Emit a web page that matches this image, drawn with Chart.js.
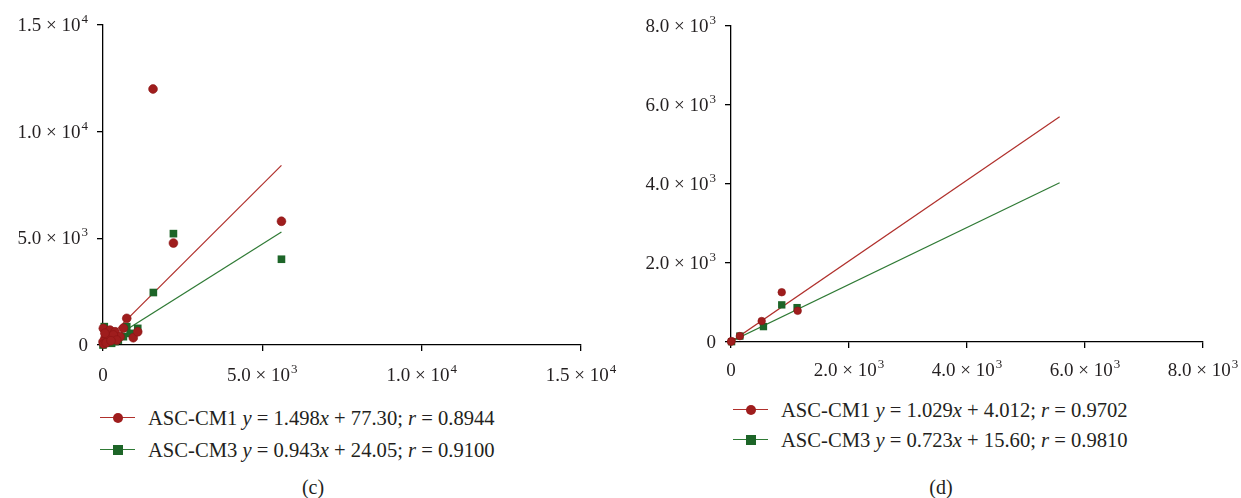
<!DOCTYPE html>
<html>
<head>
<meta charset="utf-8">
<script src="https://cdn.jsdelivr.net/npm/chart.js@4"></script>
<style>
  body { margin: 0; width: 1241px; height: 498px; background: #fff; overflow: hidden;
         font-family: "Liberation Serif", "DejaVu Serif", serif; color: #231f20; }
  canvas { position: absolute; top: 0; }
  #chartC { left: 0; }
  #chartD { left: 620px; }
  .row { position: absolute; font-size: 20.6px; line-height: 24px; white-space: nowrap; }
  .mk { display: inline-block; position: relative; width: 35px; height: 24px; vertical-align: top; margin-right: 13px; }
  .mk .ln { position: absolute; left: 0; right: 0; top: 11px; height: 1.3px; }
  .mk .dot { position: absolute; left: 13px; top: 7px; width: 10px; height: 10px; border-radius: 50%; }
  .mk .sq { position: absolute; left: 13px; top: 7px; width: 10px; height: 10px; }
  .cap { position: absolute; font-size: 20px; width: 60px; text-align: center; }
</style>
</head>
<body>
<canvas id="chartC" width="620" height="395"></canvas>
<canvas id="chartD" width="621" height="395"></canvas>

<div class="row" style="left:100px; top:406px;"><span class="mk"><span class="ln" style="background:#b0302c"></span><span class="dot" style="background:#9f1d1d"></span></span>ASC-CM1 <i>y</i> = 1.498<i>x</i> + 77.30; <i>r</i> = 0.8944</div>
<div class="row" style="left:100px; top:438px;"><span class="mk"><span class="ln" style="background:#2f7a35"></span><span class="sq" style="background:#1d6528"></span></span>ASC-CM3 <i>y</i> = 0.943<i>x</i> + 24.05; <i>r</i> = 0.9100</div>
<div class="cap" style="left:283px; top:476px;">(c)</div>

<div class="row" style="left:733px; top:398px;"><span class="mk"><span class="ln" style="background:#b0302c"></span><span class="dot" style="background:#9f1d1d"></span></span>ASC-CM1 <i>y</i> = 1.029<i>x</i> + 4.012; <i>r</i> = 0.9702</div>
<div class="row" style="left:733px; top:428px;"><span class="mk"><span class="ln" style="background:#2f7a35"></span><span class="sq" style="background:#1d6528"></span></span>ASC-CM3 <i>y</i> = 0.723<i>x</i> + 15.60; <i>r</i> = 0.9810</div>
<div class="cap" style="left:911px; top:476px;">(d)</div>

<script>
// ---- panel (c) data ----
const cCm1X = [1570, 5600, 2210, 745, 640, 950, 1090, 10, 220, 380, 535, 60, 0, 170, 325, 430, 60, 20, 100, 250];
const cCm1Y = [12000, 5800, 4780, 1250, 790, 340, 620, 780, 700, 620, 390, 310, 150, 310, 470, 230, 550, 50, 100, 200];
const cCm3X = [2210, 5600, 1580, 745, 1090, 40, 850, 640, 480, 0, 270, 380, 100];
const cCm3Y = [5220, 4020, 2460, 860, 780, 860, 545, 390, 230, 0, 80, 160, 300];
const cFitX = [0, 5600];
const cFit1Y = [77, 8420];
const cFit3Y = [24, 5300];
const cTicks = [0, 5000, 10000, 15000];

// ---- panel (d) data ----
const dCm1X = [860, 520, 1130, 150, 10, 0];
const dCm1Y = [1260, 530, 790, 150, 25, 8];
const dCm3X = [860, 1120, 550, 150, 10];
const dCm3Y = [940, 870, 390, 150, 8];
const dFitX = [0, 5570];
const dFit1Y = [4, 5700];
const dFit3Y = [16, 4030];
const dTicks = [0, 2000, 4000, 6000, 8000];

const RED = '#9f1d1d', RED_LINE = '#b0302c';
const GREEN = '#1d6528', GREEN_LINE = '#2f7a35';
const INK = '#231f20';
const FONT = '"Liberation Serif", serif';

// split a tick value into mantissa text and exponent, e.g. 15000 -> ["1.5 × 10", "4"]
function sciParts(v) {
  if (v === 0) return ['0', ''];
  const e = Math.floor(Math.log10(v) + 1e-9);
  return [(v / Math.pow(10, e)).toFixed(1) + ' × 10', String(e)];
}
function pts(xs, ys) { return xs.map((x, i) => ({x: x, y: ys[i]})); }

// draws the tick labels with a raised exponent, at the positions the scales give
const sciLabels = {
  id: 'sciLabels',
  afterDraw(chart, args, opts) {
    const ctx = chart.ctx;
    const bigF = '19px ' + FONT, smallF = '13px ' + FONT;
    ctx.save();
    ctx.fillStyle = INK;
    ctx.textBaseline = 'alphabetic';
    ctx.textAlign = 'left';
    const xs = chart.scales.x, ys = chart.scales.y;
    xs.ticks.forEach(t => {
      const [m, e] = sciParts(t.value);
      ctx.font = bigF; const w1 = ctx.measureText(m).width;
      ctx.font = smallF; const w2 = e ? ctx.measureText(e).width + 1 : 0;
      const px = xs.getPixelForValue(t.value);
      const base = xs.top + opts.xBase;
      let left = px - (w1 + w2) / 2;
      ctx.font = bigF; ctx.fillText(m, left, base);
      if (e) { ctx.font = smallF; ctx.fillText(e, left + w1 + 1, base - 8); }
    });
    ys.ticks.forEach(t => {
      const [m, e] = sciParts(t.value);
      ctx.font = bigF; const w1 = ctx.measureText(m).width;
      ctx.font = smallF; const w2 = e ? ctx.measureText(e).width + 1 : 0;
      const py = ys.getPixelForValue(t.value);
      const right = ys.right - 15;
      const base = py + 6;
      const left = right - w1 - w2;
      ctx.font = bigF; ctx.fillText(m, left, base);
      if (e) { ctx.font = smallF; ctx.fillText(e, left + w1 + 1, base - 8); }
    });
    ctx.restore();
  }
};

function axis(max, step, fit) {
  return {
    type: 'linear', min: 0, max: max,
    ticks: { stepSize: step, display: false },
    grid: { display: true, drawOnChartArea: false, drawTicks: true, tickLength: 6, color: '#000', lineWidth: 1.3 },
    border: { display: true, color: '#000', width: 1.3 },
    afterFit: fit
  };
}

function makeChart(id, d, ticksArr, pad, yWidth, xHeight, xBase, ptR, sqR) {
  const max = ticksArr[ticksArr.length - 1];
  const step = ticksArr[1];
  new Chart(document.getElementById(id), {
    type: 'scatter',
    data: { datasets: [
      { data: pts(d.x1, d.y1), pointStyle: 'circle', pointRadius: ptR, backgroundColor: RED, borderColor: '#8a1414', borderWidth: 0.6, order: 0, clip: false },
      { data: pts(d.x3, d.y3), pointStyle: 'rect', pointRadius: sqR, backgroundColor: GREEN, borderColor: GREEN, borderWidth: 0, order: 1, clip: false },
      { data: pts(d.fx, d.f1), showLine: true, pointRadius: 0, borderColor: RED_LINE, borderWidth: 1.2, order: 2 },
      { data: pts(d.fx, d.f3), showLine: true, pointRadius: 0, borderColor: GREEN_LINE, borderWidth: 1.2, order: 3 }
    ]},
    options: {
      responsive: false, animation: false, devicePixelRatio: 1,
      layout: { padding: pad },
      plugins: { legend: { display: false }, tooltip: { enabled: false }, sciLabels: { xBase: xBase } },
      scales: {
        x: axis(max, step, s => { s.height = xHeight; }),
        y: axis(max, step, s => { s.width = yWidth; })
      }
    },
    plugins: [sciLabels]
  });
}

makeChart('chartC', { x1: cCm1X, y1: cCm1Y, x3: cCm3X, y3: cCm3Y, fx: cFitX, f1: cFit1Y, f3: cFit3Y },
  cTicks, { left: 0, right: 39, top: 25, bottom: 0 }, 103, 50, 36, 4.4, 5.4);
makeChart('chartD', { x1: dCm1X, y1: dCm1Y, x3: dCm3X, y3: dCm3Y, fx: dFitX, f1: dFit1Y, f3: dFit3Y },
  dTicks, { left: 0, right: 38, top: 26, bottom: 0 }, 111, 53, 34, 3.8, 5.2);
</script>
</body>
</html>
